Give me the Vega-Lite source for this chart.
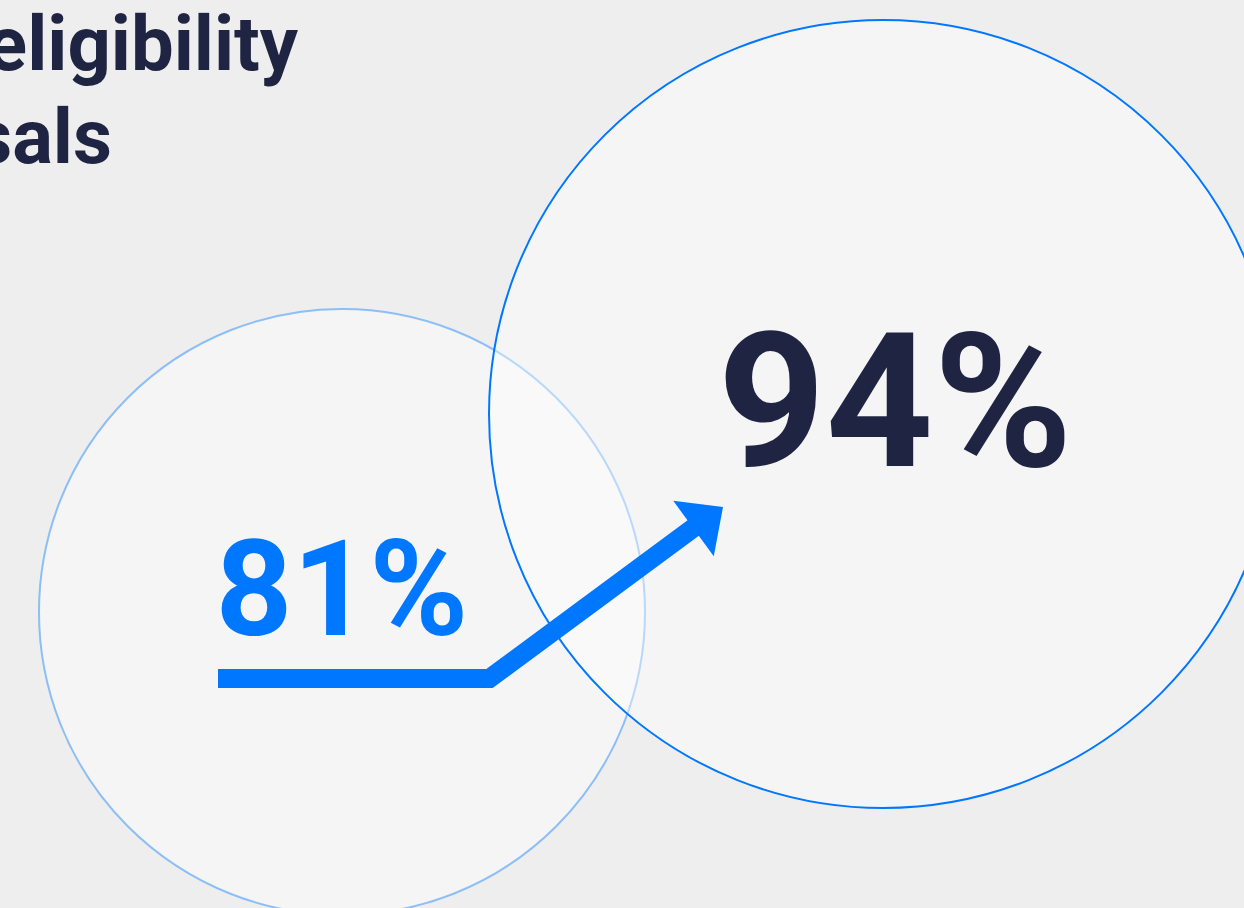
{
  "$schema": "https://vega.github.io/schema/vega-lite/v6.json",
  "width": 1244,
  "height": 908,
  "padding": 0,
  "autosize": {"type": "none"},
  "background": "#eeeeee",
  "config": {"view": {"stroke": null}},
  "datasets": {
    "circles": [
      {"stage": "Before", "x": 342, "y": 612},
      {"stage": "After", "x": 883, "y": 414}
    ],
    "arrow": [
      {"step": 1, "x": 218, "y": 678.5},
      {"step": 2, "x": 489.5, "y": 678.5},
      {"step": 3, "x": 700, "y": 523}
    ],
    "head": [{"x": 708.25, "y": 517.75}],
    "values": [
      {"stage": "Before", "label": "81%", "value": 81, "x": 342, "y": 635},
      {"stage": "After", "label": "94%", "value": 94, "x": 895, "y": 466}
    ],
    "title": [
      {"line": "Improved eligibility", "x": 298, "y": 70},
      {"line": "of proposals", "x": 112, "y": 163}
    ]
  },
  "encoding": {
    "x": {"field": "x", "type": "quantitative", "axis": null, "scale": {"domain": [0, 1244], "nice": false, "zero": false}},
    "y": {"field": "y", "type": "quantitative", "axis": null, "scale": {"domain": [0, 908], "nice": false, "zero": false, "reverse": true}}
  },
  "layer": [
    {
      "data": {"name": "circles"},
      "transform": [{"filter": "datum.stage == 'Before'"}],
      "mark": {"type": "point", "shape": "circle", "filled": true, "size": 367236, "fill": "#ffffff", "fillOpacity": 0.4, "stroke": "#0077ff", "strokeOpacity": 0.42, "strokeWidth": 2, "opacity": 1}
    },
    {
      "data": {"name": "circles"},
      "transform": [{"filter": "datum.stage == 'After'"}],
      "mark": {"type": "point", "shape": "circle", "filled": true, "size": 620944, "fill": "#ffffff", "fillOpacity": 0.4, "stroke": "#0077ff", "strokeOpacity": 1, "strokeWidth": 2, "opacity": 1}
    },
    {
      "data": {"name": "arrow"},
      "mark": {"type": "line", "color": "#0077ff", "strokeWidth": 19, "strokeJoin": "miter", "strokeCap": "butt", "strokeMiterLimit": 10},
      "encoding": {"order": {"field": "step", "type": "quantitative"}}
    },
    {
      "data": {"name": "head"},
      "mark": {"type": "point", "shape": "M0.5,0L-0.5,-0.94L-0.5,0.94Z", "filled": true, "size": 5329, "angle": 323.8, "color": "#0077ff", "opacity": 1, "strokeWidth": 0}
    },
    {
      "data": {"name": "values"},
      "transform": [{"filter": "datum.stage == 'Before'"}],
      "mark": {"type": "text", "font": "Roboto", "fontWeight": "bold", "fontSize": 134, "align": "center", "baseline": "alphabetic", "color": "#0077ff"},
      "encoding": {"text": {"field": "label"}}
    },
    {
      "data": {"name": "values"},
      "transform": [{"filter": "datum.stage == 'After'"}],
      "mark": {"type": "text", "font": "Roboto", "fontWeight": "bold", "fontSize": 188, "align": "center", "baseline": "alphabetic", "color": "#1e2442"},
      "encoding": {"text": {"field": "label"}}
    },
    {
      "data": {"name": "title"},
      "mark": {"type": "text", "font": "Roboto", "fontWeight": "bold", "fontSize": 76, "align": "right", "baseline": "alphabetic", "color": "#1e2442"},
      "encoding": {"text": {"field": "line"}}
    }
  ]
}
